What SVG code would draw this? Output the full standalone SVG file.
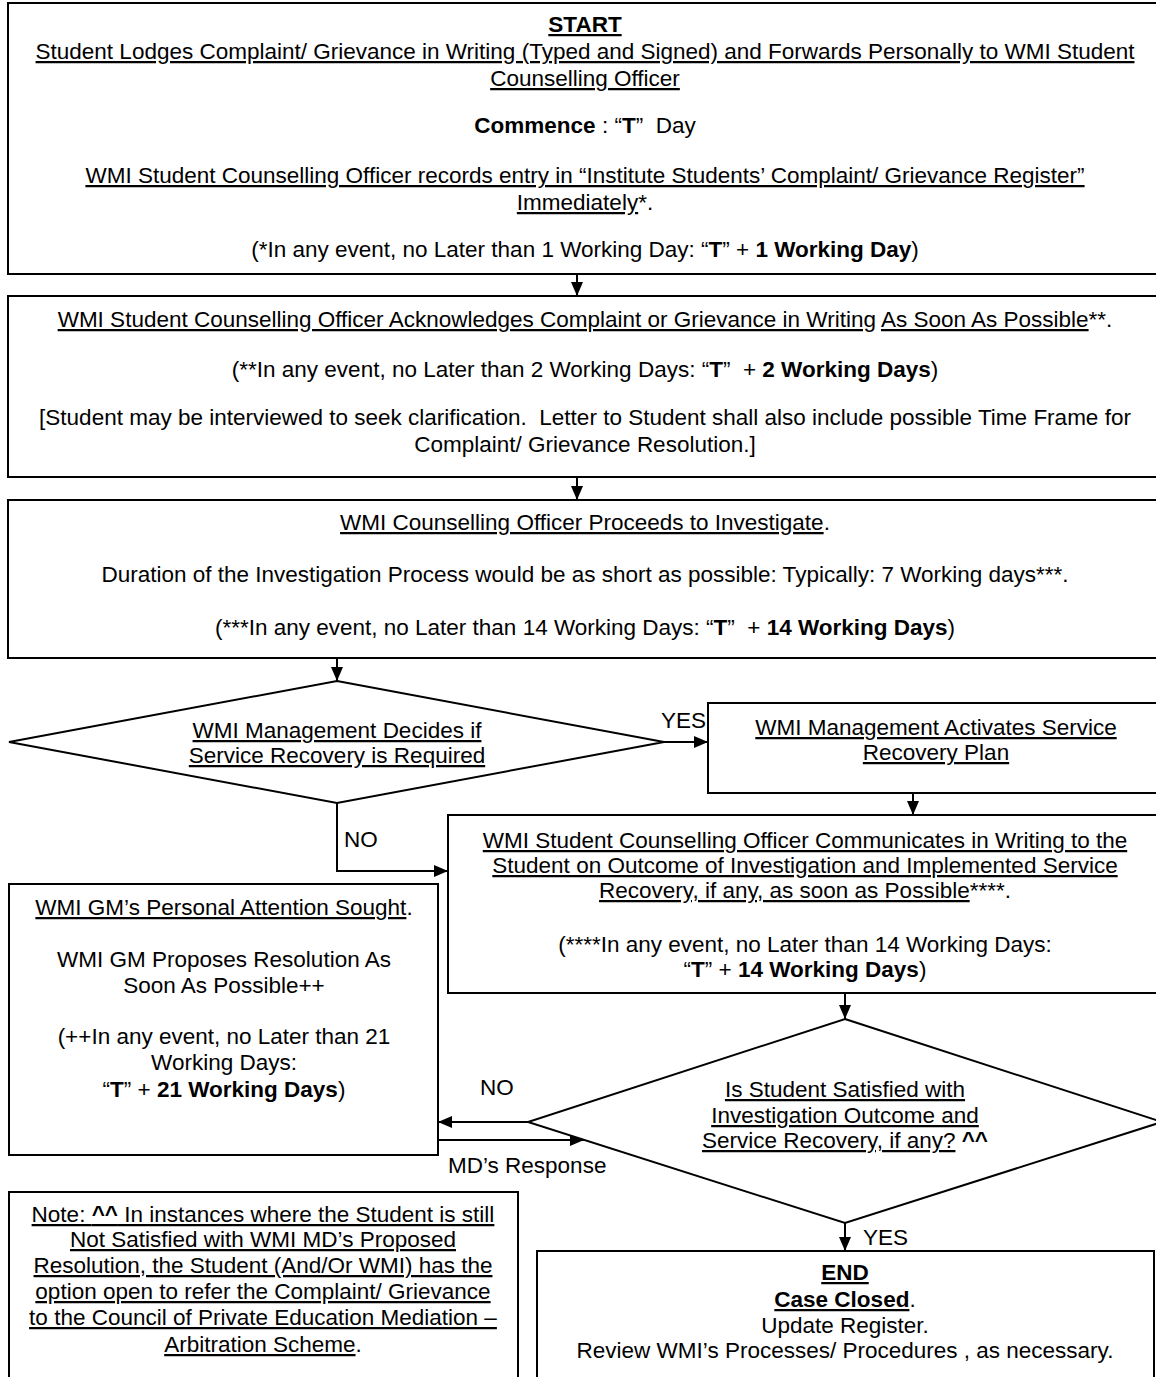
<svg xmlns="http://www.w3.org/2000/svg" width="1156" height="1377" viewBox="0 0 1156 1377">
<style>
text { font-family: "Liberation Sans", Arial, sans-serif; font-size: 22.5px; fill: #000; }
.c { text-anchor: middle; }
.u { text-decoration: underline; }
.b { font-weight: bold; }
.box { fill: #fff; stroke: #000; stroke-width: 2; }
.ln { fill: none; stroke: #000; stroke-width: 2; }
</style>
<defs>
<marker id="ah" viewBox="0 0 14 12" refX="14" refY="6" markerWidth="14" markerHeight="12" markerUnits="userSpaceOnUse" orient="auto">
<path d="M0,0 L14,6 L0,12 z" fill="#000"/>
</marker>
</defs>
<rect width="1156" height="1377" fill="#fff"/>

<g id="connectors">
<path class="ln" d="M577,274 V296" marker-end="url(#ah)"/>
<path class="ln" d="M577,477 V500" marker-end="url(#ah)"/>
<path class="ln" d="M337,658 V681" marker-end="url(#ah)"/>
<path class="ln" d="M664,742 H708" marker-end="url(#ah)"/>
<path class="ln" d="M913,793 V815" marker-end="url(#ah)"/>
<path class="ln" d="M337,803 V871 H448" marker-end="url(#ah)"/>
<path class="ln" d="M845,993 V1019" marker-end="url(#ah)"/>
<path class="ln" d="M528,1122 H438" marker-end="url(#ah)"/>
<path class="ln" d="M438,1140 H584" marker-end="url(#ah)"/>
<path class="ln" d="M845,1223 V1251" marker-end="url(#ah)"/>
<text x="661" y="728">YES</text>
<text x="344" y="847">NO</text>
<text x="480" y="1095">NO</text>
<text x="448" y="1173">MD’s Response</text>
<text x="863" y="1245">YES</text>
</g>

<g id="start">
<rect class="box" x="8" y="3" width="1160" height="271"/>
<text class="c" x="585" y="32"><tspan class="b u">START</tspan></text>
<text class="c u" x="585" y="59">Student Lodges Complaint/ Grievance in Writing (Typed and Signed) and Forwards Personally to WMI Student</text>
<text class="c u" x="585" y="86">Counselling Officer</text>
<text class="c" x="585" y="133"><tspan class="b">Commence</tspan> : “<tspan class="b">T</tspan>”&#160; Day</text>
<text class="c u" x="585" y="183">WMI Student Counselling Officer records entry in “Institute Students’ Complaint/ Grievance Register”</text>
<text class="c" x="585" y="210"><tspan class="u">Immediately</tspan>*.</text>
<text class="c" x="585" y="257">(*In any event, no Later than 1 Working Day: “<tspan class="b">T</tspan>” + <tspan class="b">1 Working Day</tspan>)</text>
</g>

<g id="acknowledge">
<rect class="box" x="8" y="296" width="1160" height="181"/>
<text class="c" x="585" y="327"><tspan class="u">WMI Student Counselling Officer Acknowledges Complaint or Grievance in Writing</tspan> <tspan class="u">As Soon As Possible</tspan>**.</text>
<text class="c" x="585" y="377">(**In any event, no Later than 2 Working Days: “<tspan class="b">T</tspan>”&#160; + <tspan class="b">2 Working Days</tspan>)</text>
<text class="c" x="585" y="425">[Student may be interviewed to seek clarification.&#160; Letter to Student shall also include possible Time Frame for</text>
<text class="c" x="585" y="452">Complaint/ Grievance Resolution.]</text>
</g>

<g id="investigate">
<rect class="box" x="8" y="500" width="1160" height="158"/>
<text class="c" x="585" y="530"><tspan class="u">WMI Counselling Officer Proceeds to Investigate</tspan>.</text>
<text class="c" x="585" y="582">Duration of the Investigation Process would be as short as possible: Typically: 7 Working days***.</text>
<text class="c" x="585" y="635">(***In any event, no Later than 14 Working Days: “<tspan class="b">T</tspan>”&#160; + <tspan class="b">14 Working Days</tspan>)</text>
</g>

<g id="decide">
<polygon class="box" points="337,681 664,742 337,803 9,742"/>
<text class="c u" x="337" y="738">WMI Management Decides if</text>
<text class="c u" x="337" y="763">Service Recovery is Required</text>
</g>

<g id="activate">
<rect class="box" x="708" y="703" width="460" height="90"/>
<text class="c u" x="936" y="735">WMI Management Activates Service</text>
<text class="c u" x="936" y="760">Recovery Plan</text>
</g>

<g id="communicate">
<rect class="box" x="448" y="815" width="720" height="178"/>
<text class="c u" x="805" y="848">WMI Student Counselling Officer Communicates in Writing to the</text>
<text class="c u" x="805" y="873">Student on Outcome of Investigation and Implemented Service</text>
<text class="c" x="805" y="898"><tspan class="u">Recovery, if any, as soon as Possible</tspan>****.</text>
<text class="c" x="805" y="952">(****In any event, no Later than 14 Working Days:</text>
<text class="c" x="805" y="977">“<tspan class="b">T</tspan>” + <tspan class="b">14 Working Days</tspan>)</text>
</g>

<g id="gm">
<rect class="box" x="9" y="884" width="429" height="271"/>
<text class="c" x="224" y="915"><tspan class="u">WMI GM’s Personal Attention Sought</tspan>.</text>
<text class="c" x="224" y="967">WMI GM Proposes Resolution As</text>
<text class="c" x="224" y="993">Soon As Possible++</text>
<text class="c" x="224" y="1044">(++In any event, no Later than 21</text>
<text class="c" x="224" y="1070">Working Days:</text>
<text class="c" x="224" y="1097">“<tspan class="b">T</tspan>” + <tspan class="b">21 Working Days</tspan>)</text>
</g>

<g id="satisfied">
<polygon class="box" points="845,1019 1162,1122 845,1223 528,1122"/>
<text class="c u" x="845" y="1097">Is Student Satisfied with</text>
<text class="c u" x="845" y="1123">Investigation Outcome and</text>
<text class="c" x="845" y="1148"><tspan class="u">Service Recovery, if any?</tspan> <tspan class="b">^^</tspan></text>
</g>

<g id="note">
<rect class="box" x="9" y="1192" width="509" height="200"/>
<text class="c u" x="263" y="1222">Note: <tspan class="b">^^</tspan> In instances where the Student is still</text>
<text class="c u" x="263" y="1247">Not Satisfied with WMI MD’s Proposed</text>
<text class="c u" x="263" y="1273">Resolution, the Student (And/Or WMI) has the</text>
<text class="c u" x="263" y="1299">option open to refer the Complaint/ Grievance</text>
<text class="c u" x="263" y="1325">to the Council of Private Education Mediation –</text>
<text class="c" x="263" y="1352"><tspan class="u">Arbitration Scheme</tspan>.</text>
</g>

<g id="end">
<rect class="box" x="537" y="1251" width="617" height="140"/>
<text class="c" x="845" y="1280"><tspan class="b u">END</tspan></text>
<text class="c" x="845" y="1307"><tspan class="b u">Case Closed</tspan>.</text>
<text class="c" x="845" y="1333">Update Register.</text>
<text class="c" x="845" y="1358">Review WMI’s Processes/ Procedures , as necessary.</text>
</g>
</svg>
